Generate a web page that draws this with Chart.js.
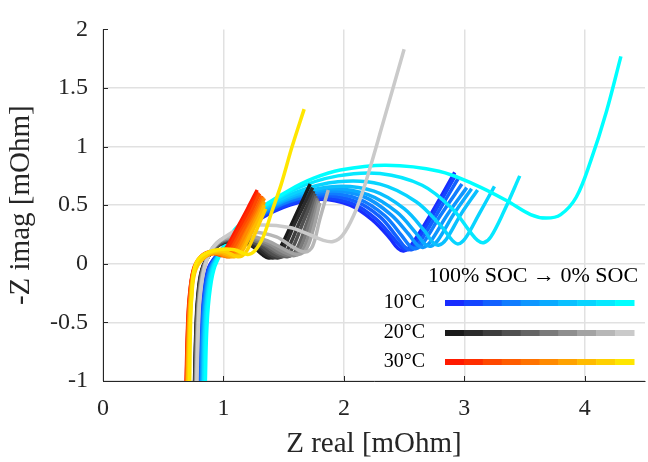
<!DOCTYPE html>
<html>
<head>
<meta charset="utf-8">
<script src="https://cdn.jsdelivr.net/npm/chart.js@4/dist/chart.umd.min.js"></script>
<style>
  html, body { margin: 0; padding: 0; background: #fff; }
  canvas { display: block; }
</style>
</head>
<body>
<canvas id="nyquist" width="648" height="462"></canvas>
<script>
// tick labels
const xTicks = [0, 1, 2, 3, 4];
const yTicks = [-1, -0.5, 0, 0.5, 1, 1.5, 2];

// legend text
const socText = '100% SOC \u2192 0% SOC';
const tempLabels = ['10\u00B0C', '20\u00B0C', '30\u00B0C'];

// colours, 100% SOC -> 0% SOC
const coldColors = ['#182cff', '#1444ff', '#1260ff', '#107cff', '#0e96ff', '#0aaaff', '#0ac0ff', '#08d4ff', '#06e8ff', '#00ffff'];
const midColors = ['#1a1a1a', '#2b2b2b', '#3d3d3d', '#505050', '#646464', '#7a7a7a', '#8e8e8e', '#a3a3a3', '#b7b7b7', '#cacaca'];
const warmColors = ['#ff1a00', '#ff2e00', '#ff4800', '#ff5c00', '#ff7200', '#ff8a00', '#ffa200', '#ffbb00', '#ffd000', '#ffe600'];

// 10 C curves, [Z real, -Z imag] in mOhm
const curves10 = [
  [[0.80,-1],[0.81,-0.6],[0.83,-0.3],[0.87,-0.05],[0.95,0.08],[1.1,0.22],[1.3,0.38],[1.55,0.5],[1.8,0.55],[2.05,0.5],[2.24,0.37],[2.38,0.22],[2.45,0.13],[2.5,0.11],[2.56,0.16],[2.72,0.42],[2.92,0.78]],
  [[0.805,-1],[0.815,-0.6],[0.835,-0.3],[0.875,-0.05],[0.955,0.08],[1.1,0.23],[1.3,0.39],[1.55,0.51],[1.82,0.56],[2.08,0.51],[2.27,0.38],[2.41,0.22],[2.48,0.14],[2.53,0.12],[2.59,0.17],[2.74,0.42],[2.93,0.76]],
  [[0.81,-1],[0.82,-0.6],[0.84,-0.3],[0.88,-0.05],[0.96,0.09],[1.1,0.24],[1.3,0.4],[1.55,0.53],[1.84,0.58],[2.1,0.53],[2.3,0.4],[2.44,0.23],[2.51,0.14],[2.56,0.12],[2.62,0.17],[2.77,0.42],[2.95,0.73]],
  [[0.815,-1],[0.825,-0.6],[0.845,-0.3],[0.885,-0.05],[0.965,0.09],[1.1,0.25],[1.3,0.41],[1.56,0.54],[1.86,0.6],[2.13,0.55],[2.34,0.41],[2.48,0.24],[2.55,0.15],[2.6,0.13],[2.66,0.18],[2.8,0.41],[2.98,0.68]],
  [[0.82,-1],[0.83,-0.6],[0.85,-0.3],[0.89,-0.05],[0.97,0.1],[1.1,0.26],[1.3,0.42],[1.57,0.56],[1.88,0.62],[2.17,0.57],[2.39,0.42],[2.54,0.25],[2.61,0.16],[2.66,0.14],[2.72,0.19],[2.86,0.42],[3.02,0.65]],
  [[0.825,-1],[0.835,-0.6],[0.855,-0.3],[0.895,-0.05],[0.975,0.1],[1.1,0.26],[1.3,0.43],[1.58,0.57],[1.9,0.64],[2.2,0.59],[2.44,0.44],[2.6,0.26],[2.67,0.17],[2.72,0.15],[2.78,0.2],[2.91,0.42],[3.06,0.64]],
  [[0.83,-1],[0.84,-0.6],[0.86,-0.3],[0.9,-0.05],[0.98,0.11],[1.1,0.27],[1.3,0.44],[1.6,0.59],[1.93,0.66],[2.25,0.62],[2.5,0.47],[2.67,0.28],[2.74,0.18],[2.79,0.16],[2.85,0.21],[2.97,0.42],[3.11,0.63]],
  [[0.835,-1],[0.845,-0.6],[0.865,-0.3],[0.905,-0.05],[0.985,0.11],[1.1,0.28],[1.3,0.45],[1.6,0.61],[1.95,0.7],[2.3,0.68],[2.6,0.53],[2.8,0.33],[2.9,0.2],[2.95,0.17],[3.01,0.22],[3.12,0.42],[3.25,0.66]],
  [[0.84,-1],[0.85,-0.6],[0.87,-0.3],[0.91,-0.05],[0.99,0.12],[1.1,0.29],[1.3,0.46],[1.6,0.64],[1.95,0.75],[2.3,0.77],[2.65,0.67],[2.9,0.47],[3.05,0.27],[3.11,0.2],[3.16,0.18],[3.22,0.23],[3.33,0.45],[3.46,0.75]],
  [[0.85,-1],[0.86,-0.6],[0.88,-0.3],[0.92,-0.05],[1.0,0.13],[1.1,0.3],[1.3,0.47],[1.55,0.63],[1.75,0.73],[1.97,0.8],[2.35,0.84],[2.79,0.79],[3.1,0.67],[3.35,0.54],[3.55,0.42],[3.68,0.39],[3.8,0.42],[3.93,0.57],[4.05,0.88],[4.18,1.3],[4.3,1.77]]
];

// 20 C curves
const curves20 = [
  [[0.76,-1],[0.77,-0.6],[0.785,-0.3],[0.82,-0.05],[0.9,0.1],[1.0,0.18],[1.12,0.2],[1.24,0.15],[1.32,0.08],[1.38,0.05],[1.45,0.1],[1.58,0.37],[1.72,0.68]],
  [[0.762,-1],[0.772,-0.6],[0.787,-0.3],[0.822,-0.05],[0.9,0.1],[1.0,0.18],[1.13,0.2],[1.26,0.15],[1.35,0.08],[1.41,0.05],[1.48,0.1],[1.6,0.36],[1.74,0.65]],
  [[0.764,-1],[0.774,-0.6],[0.789,-0.3],[0.824,-0.05],[0.9,0.1],[1.0,0.19],[1.14,0.21],[1.28,0.16],[1.38,0.08],[1.45,0.05],[1.52,0.1],[1.63,0.35],[1.75,0.62]],
  [[0.766,-1],[0.776,-0.6],[0.791,-0.3],[0.826,-0.05],[0.9,0.1],[1.0,0.19],[1.15,0.21],[1.3,0.16],[1.41,0.08],[1.49,0.06],[1.56,0.11],[1.66,0.35],[1.76,0.6]],
  [[0.768,-1],[0.778,-0.6],[0.793,-0.3],[0.828,-0.05],[0.9,0.11],[1.0,0.2],[1.16,0.22],[1.32,0.17],[1.44,0.09],[1.53,0.06],[1.6,0.11],[1.69,0.34],[1.77,0.58]],
  [[0.77,-1],[0.78,-0.6],[0.795,-0.3],[0.83,-0.05],[0.9,0.11],[1.0,0.2],[1.17,0.22],[1.34,0.17],[1.47,0.09],[1.56,0.07],[1.63,0.12],[1.71,0.33],[1.78,0.56]],
  [[0.772,-1],[0.782,-0.6],[0.797,-0.3],[0.832,-0.05],[0.9,0.11],[1.0,0.21],[1.18,0.23],[1.36,0.18],[1.5,0.1],[1.59,0.07],[1.66,0.12],[1.73,0.32],[1.79,0.54]],
  [[0.775,-1],[0.785,-0.6],[0.8,-0.3],[0.835,-0.05],[0.9,0.12],[1.0,0.21],[1.2,0.24],[1.38,0.19],[1.53,0.11],[1.62,0.08],[1.69,0.13],[1.75,0.31],[1.8,0.52]],
  [[0.778,-1],[0.788,-0.6],[0.803,-0.3],[0.838,-0.05],[0.9,0.12],[1.0,0.22],[1.24,0.27],[1.44,0.23],[1.58,0.14],[1.68,0.1],[1.74,0.15],[1.8,0.38],[1.87,0.63]],
  [[0.78,-1],[0.79,-0.6],[0.805,-0.3],[0.84,-0.05],[0.9,0.12],[1.0,0.22],[1.14,0.3],[1.3,0.33],[1.55,0.31],[1.69,0.26],[1.83,0.2],[1.91,0.19],[1.99,0.245],[2.08,0.41],[2.17,0.66],[2.33,1.22],[2.5,1.83]]
];

// 30 C curves
const curves30 = [
  [[0.69,-1],[0.7,-0.6],[0.715,-0.3],[0.75,-0.05],[0.81,0.06],[0.88,0.1],[0.95,0.09],[1.01,0.12],[1.1,0.28],[1.2,0.47],[1.28,0.63]],
  [[0.692,-1],[0.702,-0.6],[0.717,-0.3],[0.752,-0.05],[0.82,0.06],[0.89,0.1],[0.97,0.08],[1.03,0.12],[1.12,0.28],[1.21,0.45],[1.29,0.61]],
  [[0.694,-1],[0.704,-0.6],[0.719,-0.3],[0.754,-0.05],[0.83,0.06],[0.91,0.09],[0.99,0.07],[1.05,0.11],[1.14,0.27],[1.23,0.44],[1.3,0.6]],
  [[0.696,-1],[0.706,-0.6],[0.721,-0.3],[0.756,-0.05],[0.84,0.06],[0.92,0.09],[1.01,0.07],[1.07,0.11],[1.16,0.27],[1.25,0.43],[1.32,0.58]],
  [[0.698,-1],[0.708,-0.6],[0.723,-0.3],[0.758,-0.05],[0.85,0.06],[0.94,0.09],[1.03,0.06],[1.09,0.1],[1.18,0.26],[1.26,0.42],[1.33,0.57]],
  [[0.7,-1],[0.71,-0.6],[0.725,-0.3],[0.76,-0.05],[0.85,0.07],[0.95,0.09],[1.05,0.06],[1.11,0.1],[1.19,0.26],[1.27,0.41],[1.34,0.56]],
  [[0.702,-1],[0.712,-0.6],[0.727,-0.3],[0.762,-0.05],[0.86,0.07],[0.97,0.09],[1.07,0.06],[1.13,0.1],[1.21,0.25],[1.28,0.4],[1.34,0.53]],
  [[0.705,-1],[0.715,-0.6],[0.73,-0.3],[0.765,-0.05],[0.87,0.08],[0.98,0.1],[1.09,0.06],[1.15,0.1],[1.22,0.24],[1.29,0.38],[1.34,0.5]],
  [[0.71,-1],[0.72,-0.6],[0.735,-0.3],[0.77,-0.05],[0.88,0.09],[1.0,0.11],[1.12,0.06],[1.18,0.09],[1.25,0.23],[1.3,0.35],[1.35,0.47]],
  [[0.72,-1],[0.725,-0.6],[0.735,-0.3],[0.76,-0.03],[0.82,0.07],[0.95,0.12],[1.09,0.12],[1.2,0.08],[1.26,0.11],[1.33,0.23],[1.4,0.44],[1.48,0.68],[1.57,1.0],[1.67,1.32]]
];

const serif = '"Liberation Serif", "Times New Roman", serif';
const axisInk = '#262626';
const gridInk = '#e1e1e1';

function makeSets(curves, colors) {
  return curves.map((c, i) => ({
    data: c.map(p => ({ x: p[0], y: p[1] })),
    borderColor: colors[i],
    borderWidth: 3.5,
    pointRadius: 0,
    showLine: true,
    tension: 0.35,
    fill: false
  }));
}

// first dataset is drawn on top in Chart.js, so reverse the stacking
const datasets = [
  ...makeSets(curves10, coldColors),
  ...makeSets(curves20, midColors),
  ...makeSets(curves30, warmColors)
].reverse();

const innerTicks = {
  id: 'innerTicks',
  afterDatasetsDraw(chart) {
    const { ctx, chartArea, scales } = chart;
    ctx.save();
    ctx.strokeStyle = axisInk;
    ctx.lineWidth = 1;
    ctx.beginPath();
    xTicks.forEach(v => {
      const px = Math.round(scales.x.getPixelForValue(v)) + 0.5;
      ctx.moveTo(px, chartArea.bottom);
      ctx.lineTo(px, chartArea.bottom - 5);
    });
    yTicks.forEach(v => {
      const py = Math.round(scales.y.getPixelForValue(v)) + 0.5;
      ctx.moveTo(chartArea.left, py);
      ctx.lineTo(chartArea.left + 5, py);
    });
    ctx.stroke();
    ctx.restore();
  }
};

const socLegend = {
  id: 'socLegend',
  afterDraw(chart) {
    const ctx = chart.ctx;
    const groups = [coldColors, midColors, warmColors];
    const barLeft = 445, barRight = 634, barH = 6;
    const rows = [303, 333, 362];
    ctx.save();
    ctx.fillStyle = '#000';
    ctx.textBaseline = 'middle';
    ctx.textAlign = 'center';
    ctx.font = '22px ' + serif;
    ctx.fillText(socText, 533, 276);
    ctx.font = '20px ' + serif;
    ctx.textAlign = 'right';
    groups.forEach((cols, g) => {
      ctx.fillStyle = '#000';
      ctx.fillText(tempLabels[g], 425, rows[g]);
      const w = (barRight - barLeft) / cols.length;
      cols.forEach((c, k) => {
        ctx.fillStyle = c;
        ctx.fillRect(barLeft + k * w, rows[g] - barH / 2, w + 0.5, barH);
      });
    });
    ctx.restore();
  }
};

new Chart(document.getElementById('nyquist'), {
  type: 'scatter',
  data: { datasets },
  options: {
    responsive: false,
    animation: false,
    devicePixelRatio: 1,
    layout: { padding: { top: 17, right: 3, left: 0, bottom: 0 } },
    plugins: { legend: { display: false }, tooltip: { enabled: false } },
    scales: {
      x: {
        type: 'linear',
        min: 0,
        max: 4.5,
        afterBuildTicks: s => { s.ticks = xTicks.map(v => ({ value: v })); },
        afterFit: s => { s.height = 81; },
        grid: { color: gridInk, lineWidth: 1.5, drawTicks: false },
        border: { color: axisInk, width: 1 },
        ticks: { font: { family: serif, size: 24 }, color: axisInk, padding: 13, maxRotation: 0, callback: v => String(v) },
        title: { display: true, text: 'Z real [mOhm]', font: { family: serif, size: 29 }, color: axisInk, padding: { top: 0, bottom: 0 } }
      },
      y: {
        type: 'linear',
        min: -1,
        max: 2,
        afterBuildTicks: s => { s.ticks = yTicks.map(v => ({ value: v })); },
        afterFit: s => { s.width = 103; },
        grid: { color: ctx => (ctx.tick && ctx.tick.value === 2 ? 'rgba(0,0,0,0)' : gridInk), lineWidth: 1.5, drawTicks: false },
        border: { color: axisInk, width: 1 },
        ticks: { font: { family: serif, size: 24 }, color: axisInk, padding: 15, callback: v => String(v) },
        title: { display: true, text: '-Z imag [mOhm]', font: { family: serif, size: 29 }, color: axisInk, padding: { top: 4, bottom: 0 } }
      }
    }
  },
  plugins: [innerTicks, socLegend]
});
</script>
</body>
</html>
